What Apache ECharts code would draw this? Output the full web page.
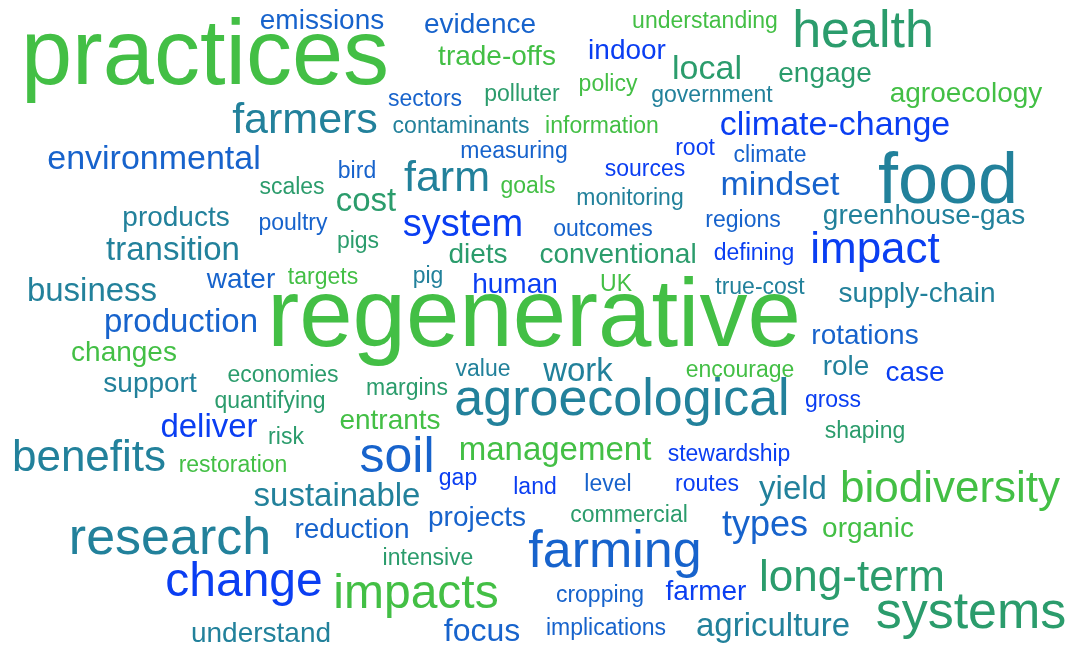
<!DOCTYPE html>
<html>
<head>
<meta charset="utf-8">
<script src="https://cdn.jsdelivr.net/npm/echarts@6/dist/echarts.min.js"></script>
<style>
html,body{margin:0;padding:0;background:#fff;}
#chart{width:1074px;height:646px;}
</style>
</head>
<body>
<div id="chart"></div>
<script>
// Word cloud data: word, weight (rendered as font size), placement (centre x, text baseline y), colour group
const words = ["practices","emissions","evidence","understanding","health","trade-offs","indoor","local","engage","agroecology",
"policy","government","sectors","polluter","farmers","contaminants","information","climate-change","environmental","measuring",
"root","climate","food","bird","farm","goals","sources","mindset","scales","cost",
"monitoring","greenhouse-gas","products","poultry","system","outcomes","regions","pigs","transition","diets",
"conventional","defining","impact","business","water","targets","pig","human","UK","true-cost",
"supply-chain","regenerative","production","rotations","changes","value","work","encourage","role","case",
"support","economies","margins","quantifying","agroecological","gross","entrants","deliver","risk","shaping",
"benefits","restoration","soil","management","stewardship","gap","land","level","routes","yield",
"biodiversity","sustainable","projects","commercial","types","organic","research","reduction","farming","intensive",
"change","impacts","long-term","cropping","farmer","systems","understand","focus","implications","agriculture"];

const weights = [92,28,28,23,52,28,28,34,28,28,
23,23,23,23,43,23,23,34,34,23,
23,23,72,23,43,23,23,34,23,33,
23,28,28,23,38,23,23,23,33,28,
28,23,44,33,28,23,23,28,23,23,
28,96,33,28,28,23,33,23,28,28,
28,23,23,23,52,23,28,33,23,23,
44,23,50,33,23,23,23,23,23,33,
44,33,28,23,36,28,52,28,52,23,
48,48,44,23,28,52,28,32,23,33];

const posX = [205,322,480,705,863,497,627,707,825,966,
608,712,425,522,305,461,602,835,154,514,
695,770,948,357,447,528,645,780,292,366,
630,924,176,293,463,603,743,358,173,478,
618,754,875,92,241,323,428,515,616,760,
917,534,181,865,124,483,578,740,846,915,
150,283,407,270,622,833,390,209,286,865,
89,233,397,555,729,458,535,608,707,793,
950,337,477,629,765,868,170,352,615,428,
244,416,852,600,706,971,261,482,606,773];

const posY = [86,28,32,27,47,64,58,79,81,101,
90,101,105,100,133,132,132,135,169,157,
154,161,204,177,191,192,175,195,193,211,
204,223,225,229,236,235,226,247,260,262,
262,259,263,301,287,283,282,292,290,293,
301,348,332,343,360,375,381,376,374,380,
391,381,394,407,415,406,428,437,443,437,
471,471,472,460,460,484,493,490,490,499,
502,506,525,521,536,536,554,537,567,564,
596,608,591,601,599,628,641,641,634,636];

const groups = ["G","B","B","G","SG","G","BB","SG","SG","G",
"G","T","B","SG","T","T","G","BB","B","B",
"BB","B","T","B","T","G","BB","B","SG","SG",
"T","T","T","B","BB","B","B","SG","T","SG",
"SG","BB","BB","T","B","G","T","BB","G","T",
"T","G","B","B","G","T","T","G","T","BB",
"T","SG","SG","SG","T","BB","G","BB","SG","SG",
"T","G","B","G","BB","BB","BB","B","BB","T",
"G","T","B","SG","B","G","T","B","B","SG",
"BB","G","SG","B","BB","SG","T","B","B","T"];

const palette = {G:"#43bf45", SG:"#2b9c6c", T:"#22819b", B:"#1763cc", BB:"#0a3ef2"};

const chart = echarts.init(document.getElementById('chart'), null, {renderer:'canvas'});
const data = words.map((w, i) => ({
  name: w,
  value: [posX[i], posY[i]],
  label: {
    fontSize: weights[i],
    color: palette[groups[i]],
    offset: [0, -0.31 * weights[i] + 1.5]
  }
}));

chart.setOption({
  animation: false,
  backgroundColor: '#ffffff',
  grid: {left: 0, right: 0, top: 0, bottom: 0},
  xAxis: {type: 'value', min: 0, max: 1074, show: false},
  yAxis: {type: 'value', min: 0, max: 646, inverse: true, show: false},
  series: [{
    type: 'scatter',
    symbolSize: 1,
    itemStyle: {color: 'rgba(0,0,0,0)', opacity: 1},
    silent: true,
    data: data,
    label: {
      show: true,
      position: 'inside',
      formatter: p => p.name,
      fontFamily: '"Liberation Sans", Arial, Helvetica, sans-serif',
      align: 'center',
      verticalAlign: 'middle'
    }
  }]
});
</script>
</body>
</html>
